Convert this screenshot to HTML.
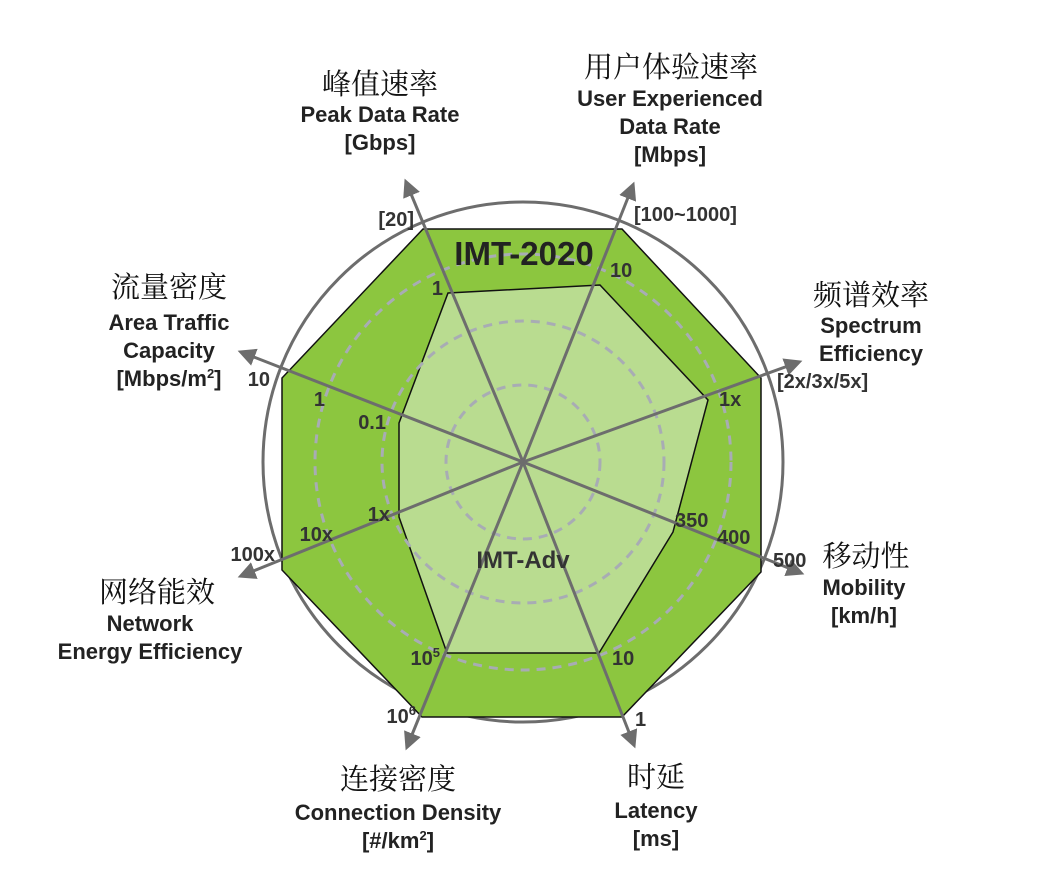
<!DOCTYPE html>
<html><head><meta charset="utf-8"><style>
html,body{margin:0;padding:0;background:#fff;}
svg{display:block;}
.cn{font-family:"Noto Serif CJK SC","Liberation Serif",serif;font-size:29px;fill:#111;}
.en{font-family:"Liberation Sans",sans-serif;font-weight:bold;font-size:22px;fill:#222;}
.tk{font-family:"Liberation Sans",sans-serif;font-weight:bold;font-size:20px;fill:#333;}
.e{text-anchor:end;}
</style></head><body>
<svg width="1046" height="884" viewBox="0 0 1046 884" xmlns="http://www.w3.org/2000/svg">
<defs>
<marker id="ah" viewBox="0 0 10 10" refX="8" refY="5" markerWidth="6" markerHeight="6" orient="auto" markerUnits="strokeWidth">
<path d="M0,0 L10,5 L0,10 z" fill="#6d6d6d"/>
</marker>
</defs>
<circle cx="523" cy="462" r="260" fill="none" stroke="#6d6d6d" stroke-width="3"/>
<polygon points="423,229 622,229 761,378 761,572 622,717 422,717 282,570 282,378" fill="#8cc63f" stroke="#111" stroke-width="1.5"/>
<polygon points="448,293 600,285 708,400 673,532 599,653 447,653 399,517 399,423" fill="#b9dc90" stroke="#111" stroke-width="1.5"/>
<g fill="none" stroke="#a8acb4" stroke-width="3" stroke-dasharray="9,7">
<circle cx="523" cy="462" r="208"/>
<circle cx="523" cy="462" r="141"/>
<circle cx="523" cy="462" r="77"/>
</g>
<g stroke="#6d6d6d" stroke-width="3" marker-end="url(#ah)">
<line x1="523" y1="462" x2="406" y2="182"/>
<line x1="523" y1="462" x2="633" y2="185"/>
<line x1="523" y1="462" x2="799" y2="362"/>
<line x1="523" y1="462" x2="801" y2="573"/>
<line x1="523" y1="462" x2="634" y2="745"/>
<line x1="523" y1="462" x2="407" y2="747"/>
<line x1="523" y1="462" x2="241" y2="576"/>
<line x1="523" y1="462" x2="241" y2="352"/>
</g>
<text x="524" y="265" text-anchor="middle" font-family="Liberation Sans,sans-serif" font-weight="bold" font-size="33" fill="#222">IMT-2020</text>
<text x="523" y="568" text-anchor="middle" font-family="Liberation Sans,sans-serif" font-weight="bold" font-size="24" fill="#333">IMT-Adv</text>
<g class="tk">
<text class="e" x="414" y="226">[20]</text>
<text class="e" x="443" y="295">1</text>
<text x="634" y="221">[100~1000]</text>
<text x="610" y="277">10</text>
<text x="777" y="388">[2x/3x/5x]</text>
<text x="719" y="406">1x</text>
<text class="e" x="270" y="386">10</text>
<text class="e" x="325" y="406">1</text>
<text class="e" x="386" y="429">0.1</text>
<text class="e" x="390" y="521">1x</text>
<text class="e" x="333" y="541">10x</text>
<text class="e" x="275" y="561">100x</text>
<text x="675" y="527">350</text>
<text x="717" y="544">400</text>
<text x="773" y="567">500</text>
<text class="e" x="440" y="665">10<tspan font-size="13" dy="-8">5</tspan></text>
<text x="612" y="665">10</text>
<text class="e" x="416" y="723">10<tspan font-size="13" dy="-8">6</tspan></text>
<text x="635" y="726">1</text>
</g>
<text class="cn" x="380" y="94" text-anchor="middle">峰值速率</text>
<text class="en" x="380" y="122" text-anchor="middle">Peak Data Rate</text>
<text class="en" x="380" y="150" text-anchor="middle">[Gbps]</text>
<text class="cn" x="671" y="77" text-anchor="middle">用户体验速率</text>
<text class="en" x="670" y="106" text-anchor="middle">User Experienced</text>
<text class="en" x="670" y="134" text-anchor="middle">Data Rate</text>
<text class="en" x="670" y="162" text-anchor="middle">[Mbps]</text>
<text class="cn" x="871" y="305" text-anchor="middle">频谱效率</text>
<text class="en" x="871" y="333" text-anchor="middle">Spectrum</text>
<text class="en" x="871" y="361" text-anchor="middle">Efficiency</text>
<text class="cn" x="866" y="566" text-anchor="middle">移动性</text>
<text class="en" x="864" y="595" text-anchor="middle">Mobility</text>
<text class="en" x="864" y="623" text-anchor="middle">[km/h]</text>
<text class="cn" x="656" y="787" text-anchor="middle">时延</text>
<text class="en" x="656" y="818" text-anchor="middle">Latency</text>
<text class="en" x="656" y="846" text-anchor="middle">[ms]</text>
<text class="cn" x="398" y="789" text-anchor="middle">连接密度</text>
<text class="en" x="398" y="820" text-anchor="middle">Connection Density</text>
<text class="en" x="398" y="848" text-anchor="middle">[#/km<tspan font-size="13" dy="-8">2</tspan><tspan dy="8">]</tspan></text>
<text class="cn" x="169" y="297" text-anchor="middle">流量密度</text>
<text class="en" x="169" y="330" text-anchor="middle">Area Traffic</text>
<text class="en" x="169" y="358" text-anchor="middle">Capacity</text>
<text class="en" x="169" y="386" text-anchor="middle">[Mbps/m<tspan font-size="13" dy="-8">2</tspan><tspan dy="8">]</tspan></text>
<text class="cn" x="157" y="602" text-anchor="middle">网络能效</text>
<text class="en" x="150" y="631" text-anchor="middle">Network</text>
<text class="en" x="150" y="659" text-anchor="middle">Energy Efficiency</text>
</svg>
</body></html>
